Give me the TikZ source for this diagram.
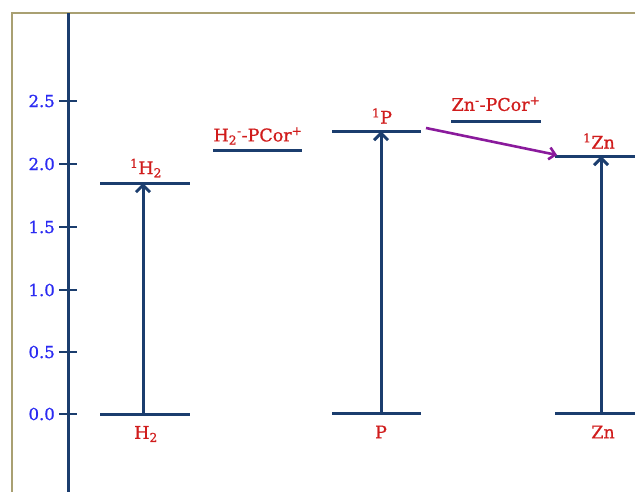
\documentclass[tikz,border=0pt]{standalone}
\usepackage{fontspec}
\setmainfont{DejaVu Serif}
\newfontfamily\heavyserif{DejaVu Serif}[FakeBold=0.9]
\usetikzlibrary{arrows.meta}
\definecolor{navy}{HTML}{1B3D6E}
\definecolor{lblred}{HTML}{D01C1C}
\definecolor{tickblue}{HTML}{2B2BF2}
\definecolor{arrpurple}{HTML}{8A1A9C}
\definecolor{frameol}{HTML}{A9A072}
\begin{document}
\begin{tikzpicture}[x=1pt,y=-1pt,
  level/.style={draw=navy,line width=3pt},
  axisline/.style={draw=navy,line width=3pt},
  tickline/.style={draw=navy,line width=2.6pt},
  ticklabel/.style={text=tickblue,anchor=east,inner sep=0pt,font=\heavyserif\fontsize{16.5}{19}\selectfont},
  lbl/.style={text=lblred,inner sep=0pt,font=\heavyserif\fontsize{17.5}{20}\selectfont},
  excite/.style={draw=navy,line width=3pt,-{Straight Barb[length=7pt,width=14pt,line width=3pt]}},
  transfer/.style={draw=arrpurple,line width=2.6pt,-{Straight Barb[length=6pt,width=12pt,line width=2.6pt]}}]
\useasboundingbox (0,0) rectangle (635,491);
\clip (0,0) rectangle (635,491);
% frame
\draw[frameol,line width=1.5pt] (12,700) -- (12,13) -- (700,13);
% axis
\coordinate (axtop) at (68,13);
\coordinate (axbot) at (68,495);
\draw[axisline] (axtop) -- (axbot);
\foreach \v/\y [count=\i] in {2.5/101,2.0/164,1.5/227,1.0/290,0.5/352,0.0/414}{
  \coordinate (tl\i) at (59,\y);
  \coordinate (tr\i) at (77,\y);
  \draw[tickline] (tl\i) -- (tr\i);
  \node[ticklabel] (tk\i) at (55,\y) {\v};
}
% levels
\coordinate (h2gL) at (100,414); \coordinate (h2gR) at (190,414); \coordinate (h2g) at (143,414);
\coordinate (h2eL) at (100,183); \coordinate (h2eR) at (190,183); \coordinate (h2e) at (143,183);
\coordinate (h2ctL) at (213,150); \coordinate (h2ctR) at (302,150);
\coordinate (pgL) at (332,413); \coordinate (pgR) at (421,413); \coordinate (pg) at (381,413);
\coordinate (peL) at (332,131); \coordinate (peR) at (421,131); \coordinate (pe) at (381,131);
\coordinate (znctL) at (451,121); \coordinate (znctR) at (541,121);
\coordinate (zngL) at (555,413); \coordinate (zngR) at (660,413); \coordinate (zng) at (601,413);
\coordinate (zneL) at (555,156); \coordinate (zneR) at (660,156); \coordinate (zne) at (601,156);
\draw[level] (h2gL) -- (h2gR);
\draw[level] (h2eL) -- (h2eR);
\draw[level] (h2ctL) -- (h2ctR);
\draw[level] (pgL) -- (pgR);
\draw[level] (peL) -- (peR);
\draw[level] (znctL) -- (znctR);
\draw[level] (zngL) -- (zngR);
\draw[level] (zneL) -- (zneR);
% labels
\node[lbl] (lh2g) at (146,434) {H\textsubscript{2}};
\node[lbl] (lh2e) at (146,168) {\textsuperscript{1}H\textsubscript{2}};
\node[lbl] (lh2ct) at (258,136) {H\textsubscript{2}\textsuperscript{-}-PCor\textsuperscript{+}};
\node[lbl] (lpe) at (382,116) {\textsuperscript{1}P};
\node[lbl] (lpg) at (381,432) {P};
\node[lbl] (lznct) at (496,104) {Zn\textsuperscript{-}-PCor\textsuperscript{+}};
\node[lbl] (lzne) at (599,141) {\textsuperscript{1}Zn};
\node[lbl] (lzng) at (603,432) {Zn};
% arrows
\draw[excite] (h2g) -- (h2e);
\draw[excite] (pg) -- (pe);
\draw[excite] (zng) -- (zne);
\coordinate (trs) at (426,128);
\coordinate (tre) at (557,155);
\draw[transfer] (trs) -- (tre);
\end{tikzpicture}
\end{document}
